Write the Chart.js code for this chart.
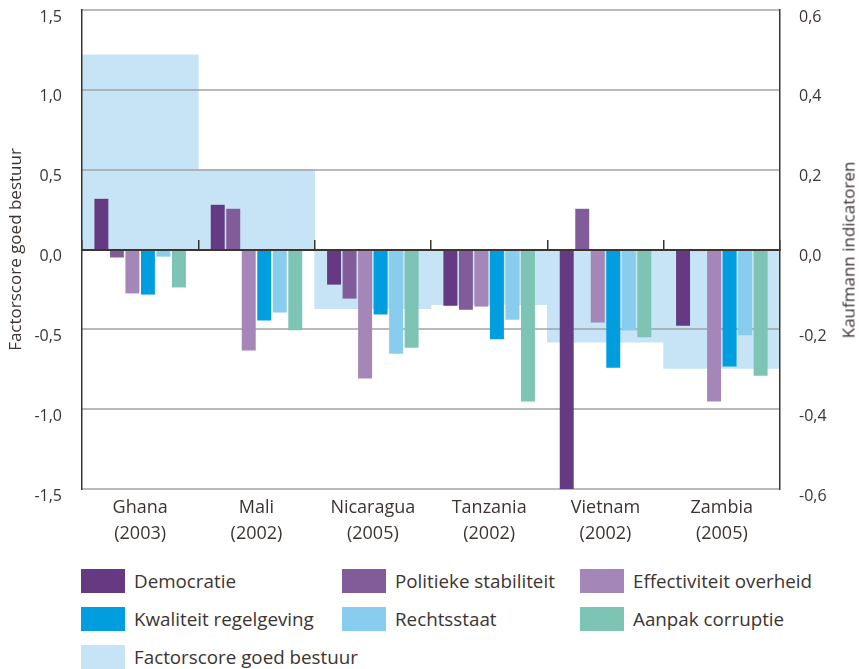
<!DOCTYPE html>
<html>
<head>
<meta charset="utf-8">
<script src="https://cdn.jsdelivr.net/npm/chart.js@4.4.1/dist/chart.umd.min.js"></script>
<style>
  body { margin: 0; background: #fff; font-family: 'Open Sans', sans-serif; color: #3b3431; }
  #wrap { position: relative; width: 859px; height: 669px; overflow: hidden; }
  #chartBox { position: absolute; left: 0; top: 0; width: 859px; height: 560px; }
  .rtitle { position: absolute; left: 848px; top: 250px; font-size: 17px; white-space: nowrap;
            transform: translate(-50%, -50%) rotate(-90deg); }
  .legend { position: absolute; left: 81px; top: 569px; display: grid;
            grid-template-columns: 261px 238px 200px; grid-auto-rows: 38px; }
  .legend .item { display: flex; align-items: flex-start; font-size: 18.8px; line-height: 24px; white-space: nowrap; }
  .legend .box { width: 44px; height: 24px; margin-right: 9px; flex: none; }
</style>
</head>
<body>
<div id="wrap">
  <div id="chartBox"><canvas id="chart" width="859" height="560"></canvas></div>
  <div class="rtitle">Kaufmann indicatoren</div>
  <div class="legend" id="legend"></div>
</div>
<script>
// landen en jaartal
const countries = [['Ghana', '(2003)'], ['Mali', '(2002)'], ['Nicaragua', '(2005)'],
                   ['Tanzania', '(2002)'], ['Vietnam', '(2002)'], ['Zambia', '(2005)']];

// factorscore goed bestuur (linker as)
const factorscore = [1.22, 0.50, -0.37, -0.345, -0.58, -0.745];

// Kaufmann indicatoren (rechter as)
const democratie = [0.127, 0.112, -0.088, -0.141, -0.60, -0.191];
const politiekeStabiliteit = [-0.020, 0.102, -0.123, -0.151, 0.102, -0.004];
const effectiviteitOverheid = [-0.110, -0.253, -0.323, -0.143, -0.183, -0.381];
const kwaliteitRegelgeving = [-0.113, -0.178, -0.163, -0.225, -0.296, -0.293];
const rechtsstaat = [-0.018, -0.158, -0.261, -0.176, -0.203, -0.215];
const aanpakCorruptie = [-0.095, -0.202, -0.246, -0.381, -0.220, -0.316];

const leftTicks = { min: -1.5, max: 1.5, step: 0.5 };
const rightTicks = { min: -0.6, max: 0.6, step: 0.2 };

const textColor = '#3b3431';
const axisColor = '#3b3431';
const gridColor = '#a3a3a3';

const indicators = [
    { label: 'Democratie', data: democratie, color: '#653a82' },
    { label: 'Politieke stabiliteit', data: politiekeStabiliteit, color: '#825c99' },
    { label: 'Effectiviteit overheid', data: effectiviteitOverheid, color: '#a586b8' },
    { label: 'Kwaliteit regelgeving', data: kwaliteitRegelgeving, color: '#009ede' },
    { label: 'Rechtsstaat', data: rechtsstaat, color: '#88cdee' },
    { label: 'Aanpak corruptie', data: aanpakCorruptie, color: '#7dc4b4' }
];
const backdrop = { label: 'Factorscore goed bestuur', data: factorscore, color: '#c6e4f5' };

function commaFormat(value) {
    return Number(value).toFixed(1).replace('.', ',');
}

// geen extra ruimte boven/onder voor de ticklabels
function fixVertical(width) {
    return s => {
        s.width = width;
        s.paddingTop = 0;
        s.paddingBottom = 0;
    };
}

// rasterlijnen tussen achtergrondbalken en indicatorbalken tekenen
const gridBetween = {
    id: 'gridBetween',
    afterDatasetDraw(chart, args) {
        if (args.meta.label !== backdrop.label) return;
        const { ctx, chartArea, scales: { y } } = chart;
        ctx.save();
        ctx.strokeStyle = gridColor;
        ctx.lineWidth = 1.5;
        y.ticks.forEach(t => {
            const py = Math.round(y.getPixelForValue(t.value));
            ctx.beginPath();
            ctx.moveTo(chartArea.left, py);
            ctx.lineTo(chartArea.right, py);
            ctx.stroke();
        });
        ctx.restore();
    }
};

const datasets = indicators.map(ind => ({
    label: ind.label,
    data: ind.data,
    backgroundColor: ind.color,
    yAxisID: 'y1',
    order: 0,
    categoryPercentage: 0.8,
    barPercentage: 0.9
}));
datasets.push({
    label: backdrop.label,
    data: backdrop.data,
    backgroundColor: backdrop.color,
    yAxisID: 'y',
    order: 1,
    grouped: false,
    categoryPercentage: 1,
    barPercentage: 1
});

const font = { family: "'Open Sans', sans-serif" };

new Chart(document.getElementById('chart').getContext('2d'), {
    type: 'bar',
    data: { labels: countries, datasets: datasets },
    options: {
        responsive: false,
        animation: false,
        devicePixelRatio: 1,
        layout: { padding: { top: 10, left: 0, right: 0, bottom: 0 } },
        plugins: { legend: { display: false }, tooltip: { enabled: false } },
        scales: {
            x: {
                grid: { display: false, drawTicks: false },
                border: { display: false },
                ticks: { color: textColor, font: { ...font, size: 18, lineHeight: 1.45 }, padding: 6, maxRotation: 0 },
                afterFit: s => { s.height = 71; }
            },
            x2: {
                type: 'category',
                axis: 'x',
                position: { y: 0 },
                offset: true,
                grid: { offset: true, drawOnChartArea: false, drawTicks: true, tickLength: -11, color: axisColor, lineWidth: 1.5, z: 1 },
                border: { display: true, color: axisColor, width: 2, z: 1 },
                ticks: { display: false }
            },
            y: {
                position: 'left',
                min: leftTicks.min,
                max: leftTicks.max,
                grid: { display: false },
                border: { display: true, color: axisColor, width: 1.5, z: 1 },
                ticks: { stepSize: leftTicks.step, color: textColor, font: { ...font, size: 16 }, padding: 12, labelOffset: 7, callback: commaFormat },
                title: { display: true, text: 'Factorscore goed bestuur', color: textColor, font: { ...font, size: 17 }, padding: { top: 6, bottom: 0 } },
                afterFit: fixVertical(82)
            },
            y1: {
                position: 'right',
                min: rightTicks.min,
                max: rightTicks.max,
                grid: { display: false },
                border: { display: true, color: axisColor, width: 1.5, z: 1 },
                ticks: { stepSize: rightTicks.step, color: textColor, font: { ...font, size: 16 }, padding: 11, labelOffset: 7, callback: commaFormat },
                afterFit: fixVertical(79)
            }
        }
    },
    plugins: [gridBetween]
});

// legenda
const legendEl = document.getElementById('legend');
indicators.concat([backdrop]).forEach(item => {
    const div = document.createElement('div');
    div.className = 'item';
    const box = document.createElement('span');
    box.className = 'box';
    box.style.background = item.color;
    const txt = document.createElement('span');
    txt.textContent = item.label;
    div.appendChild(box);
    div.appendChild(txt);
    legendEl.appendChild(div);
});
</script>
</body>
</html>
